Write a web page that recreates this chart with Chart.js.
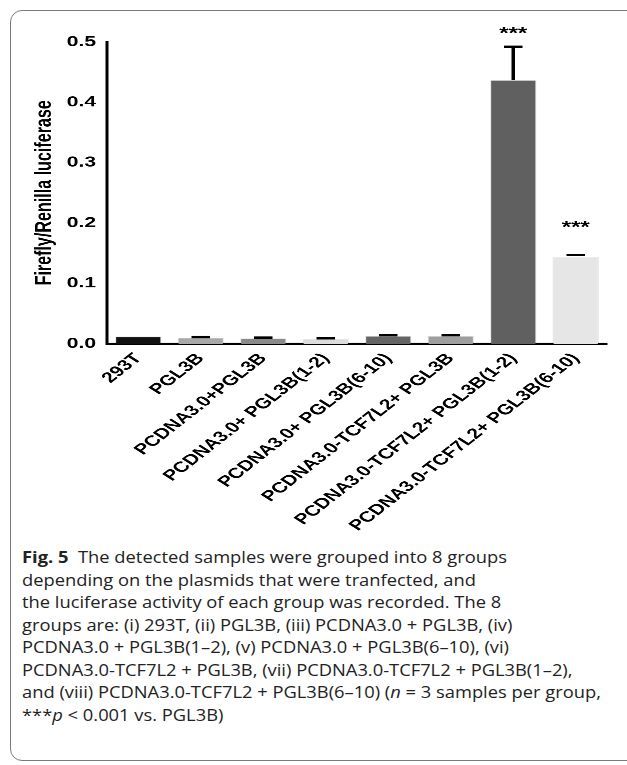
<!DOCTYPE html>
<html>
<head>
<meta charset="utf-8">
<script src="https://cdn.jsdelivr.net/npm/chart.js@4"></script>
<style>
  html, body { margin: 0; padding: 0; background: #fff; }
  body { width: 627px; height: 765px; position: relative; overflow: hidden; }
  .frame {
    position: absolute; left: 10px; top: 10px; width: 700px; height: 751px;
    border: 1px solid #7a7a7a; border-radius: 12px; box-sizing: border-box;
  }
  /* the figure is squeezed vertically, as in the source picture */
  #wrap {
    position: absolute; left: 0; top: 0; width: 627px; height: 779px;
    transform: scaleY(0.7); transform-origin: 0 0;
  }
  .caption {
    position: absolute; left: 22px; top: 546px; width: 520px;
    font-family: "Open Sans", "Noto Sans", sans-serif; font-size: 16px;
    line-height: 22.5px; color: #222; white-space: nowrap;
    transform: scaleX(1.145); transform-origin: 0 0;
  }
  .caption b { font-weight: 700; }
</style>
</head>
<body>
<div class="frame"></div>
<div id="wrap"><canvas id="chart"></canvas></div>
<div class="caption">
  <b>Fig. 5</b>&nbsp; The detected samples were grouped into 8 groups<br>
  depending on the plasmids that were tranfected, and<br>
  the luciferase activity of each group was recorded. The 8<br>
  groups are: (i) 293T, (ii) PGL3B, (iii) PCDNA3.0 + PGL3B, (iv)<br>
  PCDNA3.0 + PGL3B(1–2), (v) PCDNA3.0 + PGL3B(6–10), (vi)<br>
  PCDNA3.0-TCF7L2 + PGL3B, (vii) PCDNA3.0-TCF7L2 + PGL3B(1–2),<br>
  and (viii) PCDNA3.0-TCF7L2 + PGL3B(6–10) (<i>n</i> = 3 samples per group,<br>
  ***<i>p</i> &lt; 0.001 vs. PGL3B)
</div>
<script>
const categories = [
  "293T",
  "PGL3B",
  "PCDNA3.0+PGL3B",
  "PCDNA3.0+ PGL3B(1-2)",
  "PCDNA3.0+ PGL3B(6-10)",
  "PCDNA3.0-TCF7L2+ PGL3B",
  "PCDNA3.0-TCF7L2+ PGL3B(1-2)",
  "PCDNA3.0-TCF7L2+ PGL3B(6-10)"
];
const means = [0.012, 0.010, 0.009, 0.008, 0.013, 0.013, 0.437, 0.144];
const errors = [0.000, 0.001, 0.001, 0.001, 0.001, 0.001, 0.055, 0.003];
// significance marks and the value level they sit at
const stars = ["", "", "", "", "", "", "***", "***"];
const starLevels = [0, 0, 0, 0, 0, 0, 0.518, 0.197];
const barColors = ["#111111", "#a8a8a8", "#8a8a8a", "#dcdcdc", "#646464", "#9e9e9e", "#606060", "#e6e6e6"];
const yTicks = [0, 0.1, 0.2, 0.3, 0.4, 0.5];

const FONT = "Arial, 'Liberation Sans', sans-serif";

const errorBars = {
  id: "errorBars",
  afterDatasetsDraw(chart) {
    const ctx = chart.ctx;
    const meta = chart.getDatasetMeta(0);
    const y = chart.scales.y;
    ctx.save();
    ctx.strokeStyle = "#000";
    ctx.lineWidth = 3.5;
    meta.data.forEach((bar, i) => {
      const top = y.getPixelForValue(means[i] + errors[i]);
      const base = y.getPixelForValue(means[i]);
      const half = bar.width * 0.2;
      ctx.beginPath();
      if (base - top > 4) {
        ctx.moveTo(bar.x, base);
        ctx.lineTo(bar.x, top);
      }
      if (errors[i] > 0) {
        ctx.moveTo(bar.x - half, top);
        ctx.lineTo(bar.x + half, top);
      }
      ctx.stroke();
      if (stars[i]) {
        ctx.fillStyle = "#000";
        ctx.font = "bold 24px " + FONT;
        ctx.textAlign = "center";
        ctx.textBaseline = "middle";
        ctx.fillText(stars[i], bar.x, y.getPixelForValue(starLevels[i]) + 4);
      }
    });
    ctx.restore();
  }
};

new Chart(document.getElementById("chart"), {
  type: "bar",
  data: {
    labels: categories,
    datasets: [{
      data: means,
      backgroundColor: barColors,
      borderColor: "rgba(0,0,0,0.1)",
      borderWidth: 1,
      categoryPercentage: 1,
      barPercentage: 0.74
    }]
  },
  options: {
    responsive: true,
    maintainAspectRatio: false,
    animation: false,
    devicePixelRatio: 2,
    layout: { padding: { top: 60, right: 20, left: 0, bottom: 0 } },
    plugins: { legend: { display: false }, tooltip: { enabled: false } },
    scales: {
      x: {
        grid: { display: false, drawOnChartArea: false, tickLength: 9, tickWidth: 3, tickColor: "#000" },
        border: { color: "#000", width: 3 },
        ticks: {
          color: "#000",
          font: { family: FONT, size: 21, weight: "bold" },
          minRotation: 48, maxRotation: 48, autoSkip: false, padding: 0
        },
        afterFit(scale) { scale.height = 288; }
      },
      y: {
        min: 0, max: 0.5,
        afterBuildTicks(scale) { scale.ticks = yTicks.map(v => ({ value: v })); },
        grid: { display: false, drawOnChartArea: false, tickLength: 7, tickWidth: 3, tickColor: "#000" },
        border: { color: "#000", width: 3 },
        ticks: {
          color: "#000",
          font: { family: FONT, size: 21, weight: "bold" },
          padding: 4,
          callback: v => v.toFixed(1)
        },
        title: {
          display: true,
          text: "Firefly/Renilla luciferase",
          color: "#000",
          font: { family: FONT, size: 23, weight: "bold", lineHeight: 1.2 },
          padding: { top: 31, bottom: 0 }
        },
        afterFit(scale) { scale.width = 107; }
      }
    }
  },
  plugins: [errorBars]
});
</script>
</body>
</html>
